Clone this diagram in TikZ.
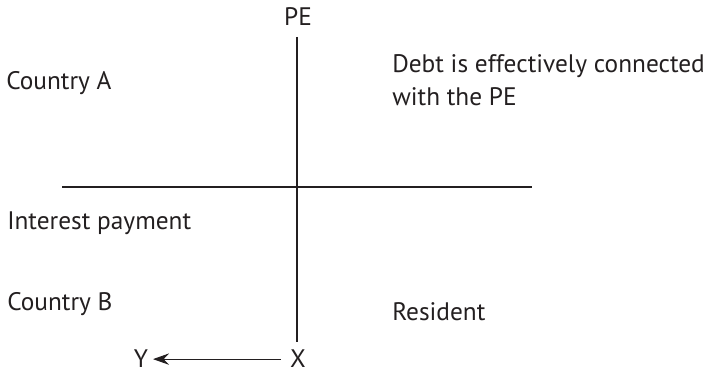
\documentclass[tikz,border=0pt]{standalone}
\usepackage{fontspec}
\setmainfont{PT Sans}
\usetikzlibrary{arrows.meta}

\definecolor{ink}{HTML}{231F20}
\newcommand{\labelfont}{\fontsize{19}{24.75}\selectfont}

\tikzset{
    lbl/.style={font=\labelfont, text=ink, inner sep=0pt},
    axis/.style={draw=ink, line width=0.9pt},
    flow/.style={draw=ink, line width=0.75pt, -{Stealth[length=12pt, width=8.5pt, inset=4pt]}}
}

\begin{document}
\begin{tikzpicture}[x=0.75pt, y=-0.75pt]
        \useasboundingbox (0, 0) rectangle (710, 373);

        % Labels
        \node[lbl, anchor=base] (pe) at (298, 26) {PE};
        \node[lbl, anchor=base west] (ctrya) at (6, 90) {Country A};
        \node[lbl, anchor=base west, align=left] (debt) at (392, 106) {Debt is effectively connected\\with the PE};
        \node[lbl, anchor=base west] (interest) at (7, 230) {Interest payment};
        \node[lbl, anchor=base west] (ctryb) at (7, 311) {Country B};
        \node[lbl, anchor=base west] (resident) at (392, 321) {Resident};
        \node[lbl, anchor=base] (x) at (298, 368) {X};
        \node[lbl, anchor=base] (y) at (141, 368) {Y};

        % Axes
        \coordinate (vtop) at (297, 37);
        \coordinate (vbot) at (297, 342);
        \coordinate (hleft) at (62, 187);
        \coordinate (hright) at (532, 187);
        \draw[axis] (vtop) -- (vbot);
        \draw[axis, line width=1.2pt] (hleft) -- (hright);

        % Payment direction
        \draw[flow, shorten <=7pt, shorten >=3.5pt] (x.west) -- (y.east);
    \end{tikzpicture}
\end{document}
